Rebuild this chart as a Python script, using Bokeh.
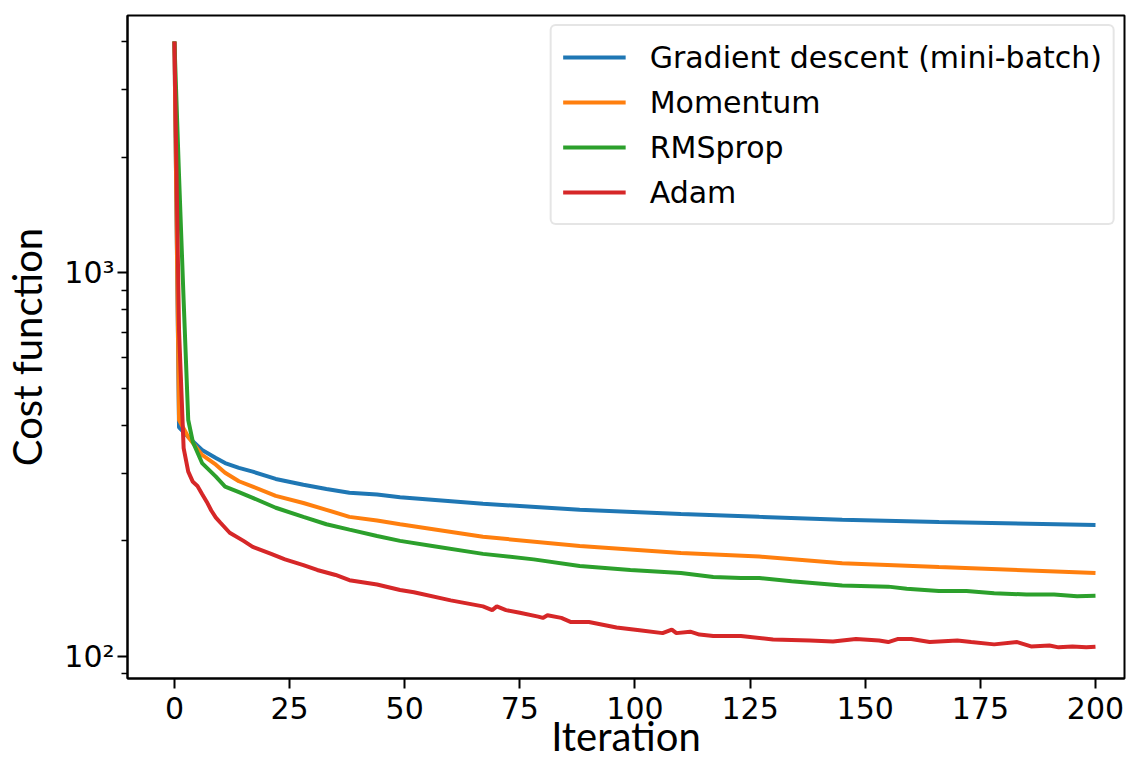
from bokeh.plotting import figure
from bokeh.models import Range1d, FixedTicker
from bokeh.embed import file_html
from bokeh.resources import INLINE

# ---- data ----
gd_iter = [0, 1, 3, 6, 9, 11, 14, 17, 22, 28, 33, 38, 44, 49, 67, 88, 110, 127, 145, 166, 200]
gd_cost = [4000, 395, 373, 345, 329, 319, 310, 303, 290, 280, 273, 267, 264, 260, 250, 241,
           235, 231, 227, 224, 220]

mom_iter = [0, 1, 3, 6, 9, 11, 14, 17, 22, 28, 33, 38, 44, 49, 67, 88, 110, 127, 145, 166, 200]
mom_cost = [4000, 413, 373, 335, 316, 301, 286, 277, 262, 251, 241, 231, 226, 221, 205, 194,
            186, 182, 175, 171, 165]

rms_iter = [0, 1, 2, 3, 4, 6, 9, 11, 14, 17, 22, 28, 33, 38, 44, 49, 56, 67, 78, 88, 99, 110,
            117, 123, 127, 134, 145, 155, 159, 166, 172, 178, 185, 191, 196, 200]
rms_cost = [4000, 1787, 846, 413, 362, 319, 294, 277, 268, 259, 244, 231, 221, 214, 206, 200,
            194, 185, 179, 172, 168, 165, 161, 160, 160, 157, 153, 152, 150, 148, 148, 146,
            145, 145, 143.5, 144]

adam_iter = [0, 1, 2, 3, 4, 5, 6, 7, 8, 9, 10, 12, 15, 17, 21, 24, 28, 31, 35, 38, 44, 49, 52,
             60, 67, 69, 70, 72, 75, 79, 80, 81, 84, 86, 90, 96, 101, 106, 108, 109, 112, 114,
             117, 123, 130, 138, 143, 148, 153, 155, 157, 160, 164, 170, 173, 178, 183, 186,
             190, 192, 195, 198, 200]
adam_cost = [4000, 707, 349, 303, 285, 278, 265, 253, 240, 230, 223, 210, 200, 193, 185, 179,
             173, 168, 163, 158, 154, 149, 147, 140, 135, 132, 135, 132, 130, 127, 126, 128,
             126, 123, 123, 119, 117, 115, 117.5, 115, 116, 114, 113, 113, 110.7, 110, 109.4,
             111, 110, 109, 111, 111, 109, 110, 109, 107.5, 109, 106.2, 106.8, 105.6, 106.2,
             105.6, 106]

series_names = ["Gradient descent (mini-batch)", "Momentum", "RMSprop", "Adam"]
series_colors = ["#1f77b4", "#ff7f0e", "#2ca02c", "#d62728"]

x_ticks = [0, 25, 50, 75, 100, 125, 150, 175, 200]
y_major = [100, 1000]
y_minor = [90, 200, 300, 400, 500, 600, 700, 800, 900, 2000, 3000, 4000]
y_labels = {100: "10²", 1000: "10³"}

# ---- figure ----
p = figure(width=1126, height=762, y_axis_type="log",
           x_range=Range1d(-10.19, 206.3), y_range=Range1d(87.6, 4675),
           output_backend="svg", toolbar_location=None,
           min_border_left=125, min_border_right=2, min_border_top=15, min_border_bottom=83)

p.background_fill_color = "white"
p.border_fill_color = "white"
p.grid.visible = False
p.outline_line_color = "black"
p.outline_line_width = 2

p.xaxis.ticker = FixedTicker(ticks=x_ticks, minor_ticks=[])
p.yaxis.ticker = FixedTicker(ticks=y_major, minor_ticks=y_minor)
p.yaxis.major_label_overrides = y_labels

for ax in (p.xaxis[0], p.yaxis[0]):
    ax.axis_line_color = "black"
    ax.axis_line_width = 2
    ax.major_tick_line_color = "black"
    ax.major_tick_line_width = 2
    ax.major_tick_out = 10
    ax.major_tick_in = 0
    ax.minor_tick_line_color = "black"
    ax.minor_tick_line_width = 1.5
    ax.minor_tick_out = 6
    ax.minor_tick_in = 0
    ax.major_label_text_font = "DejaVu Sans"
    ax.major_label_text_font_size = "30px"
    ax.major_label_text_color = "black"
    ax.axis_label_text_font = "Lato"
    ax.axis_label_text_font_size = "40px"
    ax.axis_label_text_font_style = "normal"
    ax.axis_label_text_color = "black"

p.xaxis.major_label_standoff = 8
p.yaxis.major_label_standoff = 3
p.xaxis.axis_label = "Iteration"
p.yaxis.axis_label = "Cost function"
p.xaxis.axis_label_standoff = -10
p.yaxis.axis_label_standoff = 10

all_x = [gd_iter, mom_iter, rms_iter, adam_iter]
all_y = [gd_cost, mom_cost, rms_cost, adam_cost]
for xs, ys, name, col in zip(all_x, all_y, series_names, series_colors):
    p.line(xs, ys, line_color=col, line_width=4, legend_label=name)

lg = p.legend[0]
lg.location = "top_right"
lg.margin = 9
lg.padding = 11
lg.spacing = 5
lg.glyph_width = 63
lg.glyph_height = 40
lg.label_height = 40
lg.label_standoff = 24
lg.label_text_font = "DejaVu Sans"
lg.label_text_font_size = "30px"
lg.label_text_color = "black"
lg.border_line_color = "#cccccc"
lg.border_line_width = 2
lg.background_fill_color = "white"
lg.background_fill_alpha = 0.8
if "border_radius" in lg.properties():
    lg.border_radius = 6

open("out.html", "w").write(file_html(p, INLINE))
